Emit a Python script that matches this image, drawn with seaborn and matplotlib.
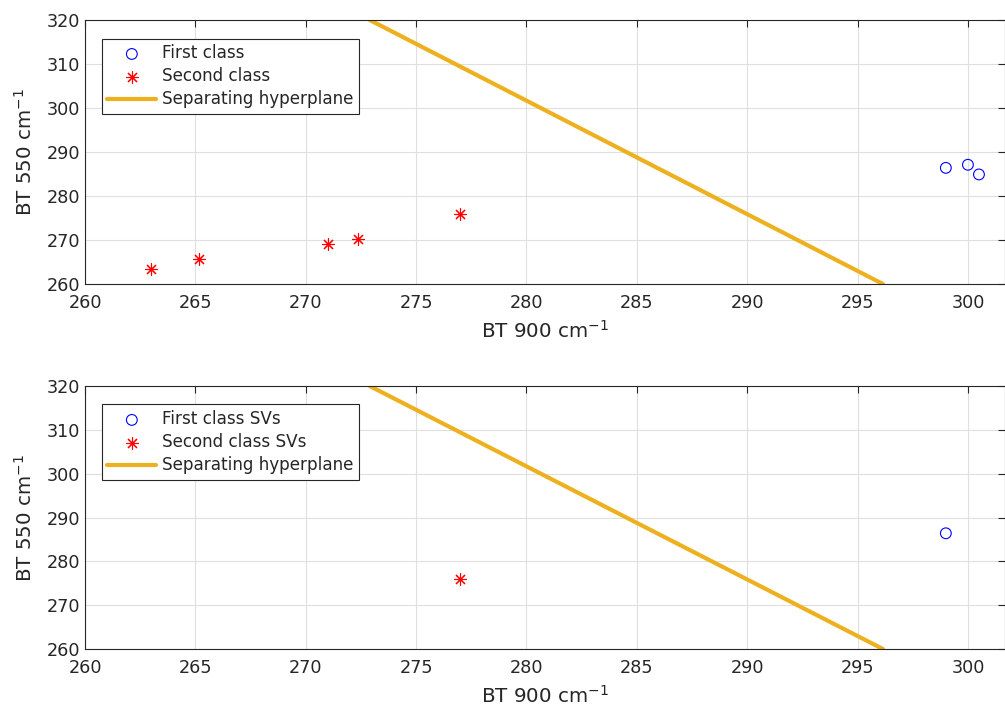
import matplotlib
matplotlib.use("Agg")
import matplotlib.pyplot as plt
import seaborn as sns
import pandas as pd

sns.set_theme(style="whitegrid")
plt.rcParams['font.family'] = ['DejaVu Sans']

# Data
first_x = [299.0, 300.0, 300.5]
first_y = [286.4, 287.1, 284.9]
second_x = [263.0, 265.15, 271.0, 272.35, 277.0]
second_y = [263.3, 265.6, 269.0, 270.2, 275.9]
sv_first_x = [299.0]
sv_first_y = [286.4]
sv_second_x = [277.0]
sv_second_y = [275.9]
plane_x = [272.9, 296.15]
plane_y = [320.0, 260.0]
xticks = [260, 265, 270, 275, 280, 285, 290, 295, 300]
yticks = [260, 270, 280, 290, 300, 310, 320]

blue = '#0000FF'
red = '#FF0000'
gold = '#EDB120'
axc = '#262626'

fig = plt.figure(figsize=(10.05, 7.10), dpi=100)
ax1 = fig.add_axes([0.0846, 0.600, 1.0 - 0.0846, 0.3718])
ax2 = fig.add_axes([0.0846, 0.0859, 1.0 - 0.0846, 0.3704])

def draw(ax, cx, cy, sx, sy, lab1, lab2):
    sns.scatterplot(x=cx, y=cy, ax=ax, marker='o', s=60, facecolor='none',
                    edgecolor=blue, linewidth=0.8, label=lab1, zorder=3)
    sns.scatterplot(x=sx, y=sy, ax=ax, marker=(8, 2, 0), s=75, color=red,
                    linewidth=0.8, label=lab2, zorder=3)
    sns.lineplot(x=plane_x, y=plane_y, ax=ax, color=gold, linewidth=3,
                 label='Separating hyperplane', zorder=2)
    ax.set_xlim(260, 301.68)
    ax.set_ylim(260, 320)
    ax.set_xticks(xticks)
    ax.set_yticks(yticks)
    ax.set_facecolor('white')
    ax.grid(True, color='#DFDFDF', linewidth=0.8)
    for sp in ax.spines.values():
        sp.set_visible(True)
        sp.set_color(axc)
        sp.set_linewidth(0.8)
    ax.tick_params(direction='in', length=5, width=0.8, colors=axc,
                   top=True, right=True, labelsize=12.7, labelcolor=axc)
    ax.tick_params(axis='x', pad=7)
    ax.set_xlabel('BT 900 cm$^{-1}$', fontsize=14.3, color=axc, labelpad=6)
    ax.set_ylabel('BT 550 cm$^{-1}$', fontsize=14.3, color=axc, labelpad=8)
    leg = ax.legend(loc='upper left', bbox_to_anchor=(0.018, 0.93), fontsize=12.1,
                    frameon=True, fancybox=False, edgecolor=axc, framealpha=1,
                    borderpad=0.35, labelspacing=0.3, handlelength=2.9,
                    handletextpad=0.35, borderaxespad=0)
    leg.get_frame().set_linewidth(0.8)

draw(ax1, first_x, first_y, second_x, second_y, 'First class', 'Second class')
draw(ax2, sv_first_x, sv_first_y, sv_second_x, sv_second_y, 'First class SVs', 'Second class SVs')

fig.savefig('out.png', dpi=100)
